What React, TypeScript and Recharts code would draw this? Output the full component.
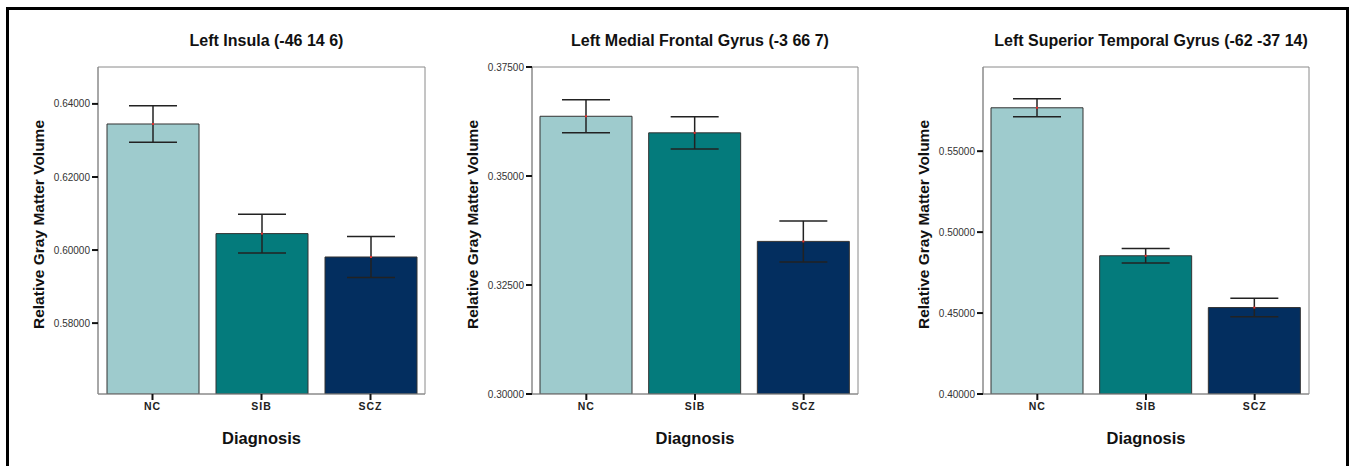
import { BarChart, Bar, XAxis, YAxis, Cell, ErrorBar, LabelList, ReferenceArea } from "recharts"

const diagnoses = ["NC", "SIB", "SCZ"]
const barColors = ["#9ecbcd", "#047b7c", "#032e5f"]

const insulaMeans = [0.6345, 0.6045, 0.5981]
const insulaErrors = [0.005, 0.0053, 0.0056]
const insulaTicks = [0.58, 0.6, 0.62, 0.64]

const frontalMeans = [0.3637, 0.3599, 0.335]
const frontalErrors = [0.0038, 0.0037, 0.0047]
const frontalTicks = [0.3, 0.325, 0.35, 0.375]

const temporalMeans = [0.5768, 0.4854, 0.4534]
const temporalErrors = [0.0056, 0.0045, 0.0057]
const temporalTicks = [0.4, 0.45, 0.5, 0.55]

const FONT = "'Liberation Sans', Arial, sans-serif"

const MeanDot = (props: any) => {
  const { x, y, width } = props
  return <rect x={x + width / 2 - 1} y={y - 1} width={2} height={2} fill="#e0302e" />
}

type PanelProps = {
  title: string
  means: number[]
  errors: number[]
  ticks: number[]
  domain: [number, number]
  left: number
  width: number
  marginLeft: number
  marginRight: number
}

function Panel({ title, means, errors, ticks, domain, left, width, marginLeft, marginRight }: PanelProps) {
  const rows = diagnoses.map((name, i) => ({ name, mean: means[i], err: errors[i] }))
  const plotLeft = marginLeft + 70
  const plotWidth = width - plotLeft - marginRight

  return (
    <div style={{ position: "absolute", left, top: 0, width, height: 466 }}>
      <div
        style={{
          position: "absolute",
          left: plotLeft - 20,
          width: plotWidth + 50,
          top: 32,
          textAlign: "center",
          fontFamily: FONT,
          fontWeight: "bold",
          fontSize: 16,
          color: "#111",
          whiteSpace: "nowrap",
        }}
      >
        {title}
      </div>
      <BarChart
        width={width}
        height={466}
        data={rows}
        margin={{ top: 67, right: marginRight, bottom: 0, left: marginLeft }}
      >
        <ReferenceArea
          x1={diagnoses[0]}
          x2={diagnoses[diagnoses.length - 1]}
          y1={domain[0]}
          y2={domain[1]}
          fill="none"
          fillOpacity={0}
          stroke="#8a8a8a"
          strokeWidth={1}
          ifOverflow="visible"
        />
        <XAxis
          dataKey="name"
          height={72}
          tickSize={6}
          tickMargin={3}
          axisLine={{ stroke: "#8a8a8a" }}
          tickLine={{ stroke: "#111", strokeWidth: 2 }}
          tick={{ fontFamily: FONT, fontSize: 10.5, fontWeight: "bold", fill: "#222", letterSpacing: 1 }}
          label={{
            content: ({ viewBox }: any) => (
              <text
                x={viewBox.x + viewBox.width / 2}
                y={viewBox.y + 50}
                textAnchor="middle"
                fontFamily={FONT}
                fontWeight="bold"
                fontSize={16.5}
                fill="#111"
              >
                Diagnosis
              </text>
            ),
          }}
        />
        <YAxis
          width={70}
          domain={domain}
          ticks={ticks}
          allowDataOverflow
          tickSize={6}
          tickMargin={2}
          axisLine={{ stroke: "#8a8a8a" }}
          tickLine={{ stroke: "#111", strokeWidth: 2 }}
          tick={{ fontFamily: FONT, fontSize: 10, fill: "#333" }}
          tickFormatter={(v: number) => v.toFixed(5)}
          label={{
            content: ({ viewBox }: any) => {
              const cx = viewBox.x + 10
              const cy = viewBox.y + viewBox.height / 2 - 6
              return (
                <text
                  x={cx}
                  y={cy}
                  transform={`rotate(-90, ${cx}, ${cy})`}
                  textAnchor="middle"
                  dominantBaseline="central"
                  fontFamily={FONT}
                  fontWeight="bold"
                  fontSize={15.5}
                  fill="#111"
                >
                  Relative Gray Matter Volume
                </text>
              )
            },
          }}
        />
        <Bar dataKey="mean" barSize={92} stroke="#333" strokeWidth={1} isAnimationActive={false}>
          {rows.map((r, i) => (
            <Cell key={r.name} fill={barColors[i]} />
          ))}
          <ErrorBar dataKey="err" width={24} stroke="#222" strokeWidth={1.5} isAnimationActive={false} />
          <LabelList dataKey="mean" content={MeanDot} />
        </Bar>
      </BarChart>
    </div>
  )
}

export default function App() {
  return (
    <div style={{ position: "fixed", left: 0, top: 0, width: 1352, height: 466, background: "#fff", overflow: "hidden" }}>
      <Panel
        title="Left Insula (-46 14 6)"
        means={insulaMeans}
        errors={insulaErrors}
        ticks={insulaTicks}
        domain={[0.5606, 0.6501]}
        left={0}
        width={450}
        marginLeft={28}
        marginRight={25}
      />
      <Panel
        title="Left Medial Frontal Gyrus (-3 66 7)"
        means={frontalMeans}
        errors={frontalErrors}
        ticks={frontalTicks}
        domain={[0.3, 0.375]}
        left={450}
        width={450}
        marginLeft={12}
        marginRight={42}
      />
      <Panel
        title="Left Superior Temporal Gyrus (-62 -37 14)"
        means={temporalMeans}
        errors={temporalErrors}
        ticks={temporalTicks}
        domain={[0.4, 0.602]}
        left={900}
        width={452}
        marginLeft={13}
        marginRight={43}
      />
      <div
        style={{
          position: "absolute",
          left: 6,
          top: 7,
          width: 1337,
          height: 480,
          border: "3px solid #000",
          pointerEvents: "none",
        }}
      />
    </div>
  )
}
